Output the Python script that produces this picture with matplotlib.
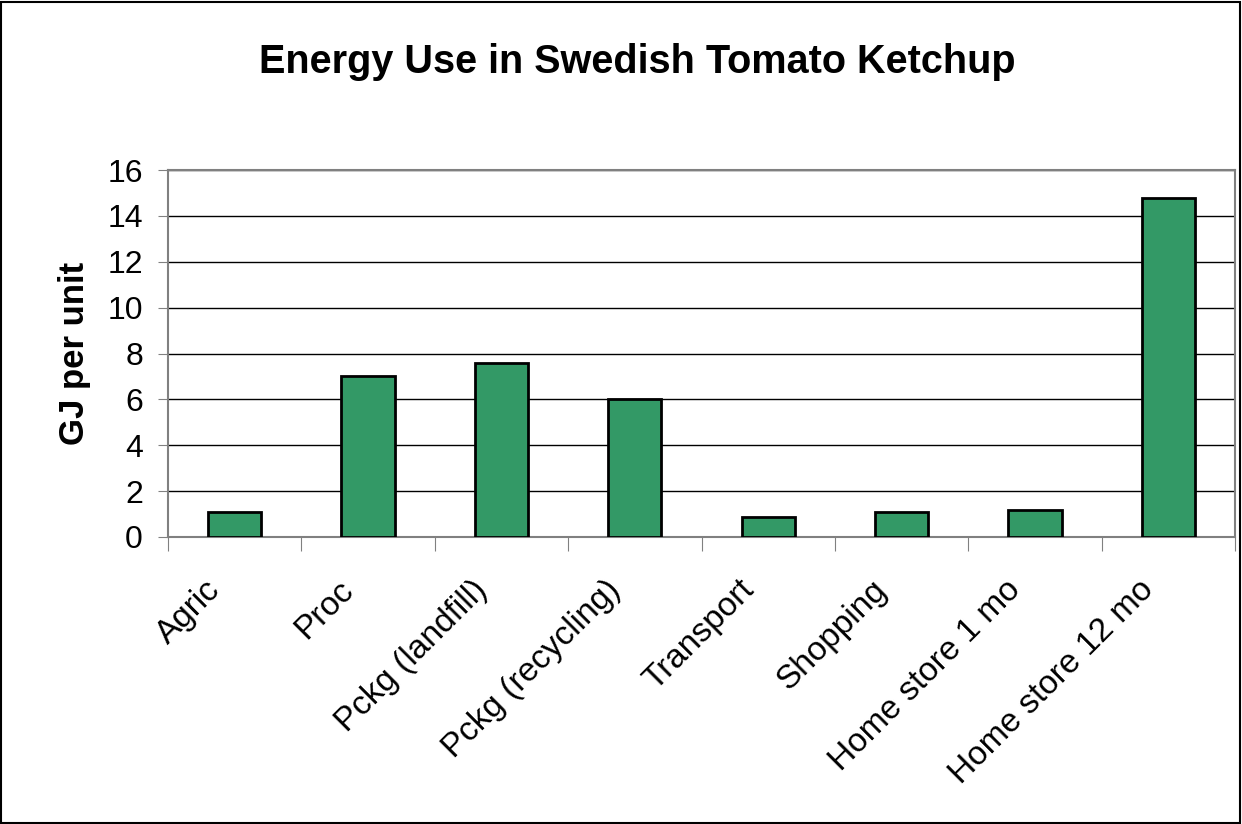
import numpy as np
import matplotlib.pyplot as plt
from matplotlib.patches import Rectangle
from matplotlib.transforms import ScaledTranslation

plt.rcParams['font.family'] = ['Liberation Sans', 'DejaVu Sans']

# data
categories = ['Agric', 'Proc', 'Pckg (landfill)', 'Pckg (recycling)', 'Transport',
              'Shopping', 'Home store 1 mo', 'Home store 12 mo']
energy = [1.1, 7.0, 7.6, 6.0, 0.87, 1.08, 1.19, 14.76]


fig = plt.figure(figsize=(12.42, 8.24), dpi=100)
ax = fig.add_axes([168 / 1242, 1 - 537 / 824, (1235 - 168) / 1242, (537 - 170) / 824])

x = np.arange(len(categories))
ax.bar(x, energy, width=0.4, color='#339966', edgecolor='black', linewidth=2, zorder=3)

ax.set_xlim(-0.5, len(categories) - 0.5)
ax.set_ylim(0, 16)
ax.set_yticks(np.arange(0, 17, 2))
ax.tick_params(axis='y', labelsize=23, length=7, color='#808080', direction='out', pad=11)
ax.yaxis.grid(True, color='black', linewidth=1, zorder=0)

# category ticks sit between bars, labels under the bar centres
ax.set_xticks(np.arange(len(categories) + 1) - 0.5)
ax.set_xticklabels([])
ax.tick_params(axis='x', length=10, color='#808080', direction='out')
ax.set_xticks(x, minor=True)
ax.set_xticklabels(categories, minor=True, rotation=45, ha='right', rotation_mode='anchor',
                   fontsize=24)
ax.tick_params(axis='x', which='minor', length=0, pad=27)
shift = ScaledTranslation(-30 / 100, 0, fig.dpi_scale_trans)
for lab in ax.get_xticklabels(minor=True):
    lab.set_transform(lab.get_transform() + shift)

for s in ax.spines.values():
    s.set_color('#808080')
    s.set_linewidth(1.5)

ax.set_ylabel('GJ per unit', fontsize=25, fontweight='bold', labelpad=12)
fig.text(637 / 1242, 1 - 62 / 824, 'Energy Use in Swedish Tomato Ketchup', ha='center', va='center',
         fontsize=28.5, fontweight='bold')

fig.patches.append(Rectangle((0.001, 0.001), 0.997, 0.997, transform=fig.transFigure,
                             fill=False, edgecolor='black', linewidth=1.5))

fig.savefig('out.png', dpi=100)
